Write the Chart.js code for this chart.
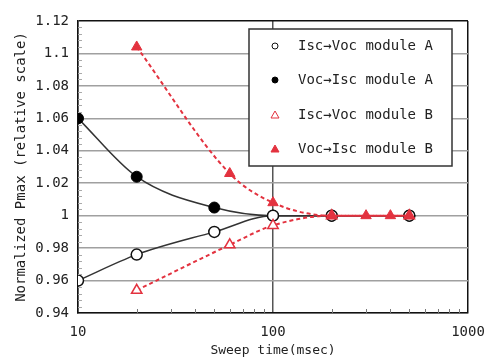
<!DOCTYPE html>
<html>
<head>
<meta charset="utf-8">
<script src="https://cdn.jsdelivr.net/npm/chart.js@4.4.1/dist/chart.umd.min.js"></script>
<style>
  html, body { margin: 0; padding: 0; background: #fff; }
  #wrap { width: 498px; height: 358px; }
</style>
</head>
<body>
<div id="wrap"><canvas id="myChart" width="498" height="358"></canvas></div>
<script>
// values
const aOpenX = [10, 20, 50, 100, 200, 500];
const aOpenY = [0.960, 0.976, 0.990, 1.000, 1.000, 1.000];
const aFilledX = [10, 20, 50, 100, 200, 500];
const aFilledY = [1.060, 1.024, 1.005, 1.000, 1.000, 1.000];
const bOpenX = [20, 60, 100, 200, 500];
const bOpenY = [0.954, 0.982, 0.994, 1.000, 1.000];
const bFilledX = [20, 60, 100, 200, 300, 400, 500];
const bFilledY = [1.104, 1.026, 1.008, 1.000, 1.000, 1.000, 1.000];

const seriesLabels = ['Isc\u2192Voc module A', 'Voc\u2192Isc module A', 'Isc\u2192Voc module B', 'Voc\u2192Isc module B'];
const xTickValues = [10, 100, 1000];
const yMin = 0.94, yMax = 1.12, yStep = 0.02;

const RED = '#e3323f';
const monoFont = "'DejaVu Sans Mono', monospace";

function pts(xs, ys) {
  return xs.map((x, i) => ({ x: x, y: ys[i] }));
}

// Draw minor ticks on the axes and the legend box
const extras = {
  id: 'extras',
  afterDraw(chart) {
    const ctx = chart.ctx;
    const xs = chart.scales.x, ys = chart.scales.y;
    const area = chart.chartArea;
    ctx.save();
    // x minor ticks
    ctx.strokeStyle = '#777';
    ctx.lineWidth = 1;
    for (let d = 10; d < 1000; d *= 10) {
      for (let m = 2; m <= 9; m++) {
        const px = Math.round(xs.getPixelForValue(d * m)) + 0.5;
        ctx.beginPath();
        ctx.moveTo(px, area.bottom);
        ctx.lineTo(px, area.bottom - 4);
        ctx.stroke();
      }
    }
    // y minor ticks
    ctx.strokeStyle = '#aaa';
    for (let i = 1; i < 45; i++) {
      if (i % 5 === 0) continue;
      const py = Math.round(ys.getPixelForValue(yMin + i * 0.004)) + 0.5;
      ctx.beginPath();
      ctx.moveTo(area.left, py);
      ctx.lineTo(area.left + 4, py);
      ctx.stroke();
    }

    // legend box
    const bx = 249, by = 29, bw = 203, bh = 137;
    ctx.fillStyle = '#fff';
    ctx.fillRect(bx, by, bw, bh);
    ctx.strokeStyle = '#333';
    ctx.lineWidth = 1.5;
    ctx.strokeRect(bx, by, bw, bh);
    const rows = [46, 80, 115, 149];
    ctx.font = '14px ' + monoFont;
    ctx.textBaseline = 'middle';
    ctx.textAlign = 'left';
    chart.data.datasets.forEach((ds, i) => {
      const y = rows[i];
      const mx = 275;
      ctx.lineWidth = 1;
      ctx.strokeStyle = ds.pointBorderColor;
      ctx.fillStyle = ds.pointBackgroundColor;
      ctx.beginPath();
      if (ds.pointStyle === 'circle') {
        ctx.arc(mx, y, 3, 0, Math.PI * 2);
      } else {
        ctx.moveTo(mx, y - 4);
        ctx.lineTo(mx + 4, y + 3);
        ctx.lineTo(mx - 4, y + 3);
        ctx.closePath();
      }
      ctx.fill();
      ctx.stroke();
      ctx.fillStyle = '#222';
      ctx.fillText(ds.label, 298, y);
    });
    ctx.restore();
  }
};

const ctx = document.getElementById('myChart').getContext('2d');
const chart = new Chart(ctx, {
  type: 'line',
  data: {
    datasets: [
      {
        label: seriesLabels[0],
        data: pts(aOpenX, aOpenY),
        borderColor: '#333', borderWidth: 1.5,
        pointStyle: 'circle', pointRadius: 5.5,
        pointBackgroundColor: '#fff', pointBorderColor: '#111', pointBorderWidth: 1.5,
        cubicInterpolationMode: 'monotone', order: 2
      },
      {
        label: seriesLabels[1],
        data: pts(aFilledX, aFilledY),
        borderColor: '#333', borderWidth: 1.5,
        pointStyle: 'circle', pointRadius: 5.5,
        pointBackgroundColor: '#000', pointBorderColor: '#000', pointBorderWidth: 1,
        cubicInterpolationMode: 'monotone', order: 2
      },
      {
        label: seriesLabels[2],
        data: pts(bOpenX, bOpenY),
        borderColor: RED, borderWidth: 2, borderDash: [4, 3],
        pointStyle: 'triangle', pointRadius: 6,
        pointBackgroundColor: '#fff', pointBorderColor: RED, pointBorderWidth: 1.5,
        cubicInterpolationMode: 'monotone', order: 1
      },
      {
        label: seriesLabels[3],
        data: pts(bFilledX, bFilledY),
        borderColor: RED, borderWidth: 2, borderDash: [4, 3],
        pointStyle: 'triangle', pointRadius: 6,
        pointBackgroundColor: RED, pointBorderColor: RED, pointBorderWidth: 1,
        cubicInterpolationMode: 'monotone', order: 0
      }
    ]
  },
  options: {
    responsive: false,
    animation: false,
    layout: { padding: { top: 21, right: 30, left: 0, bottom: 0 } },
    plugins: { legend: { display: false }, tooltip: { enabled: false } },
    scales: {
      x: {
        type: 'logarithmic',
        min: 10, max: 1000,
        afterBuildTicks: (scale) => { scale.ticks = xTickValues.map(v => ({ value: v })); },
        afterFit: (scale) => { scale.height = 45; },
        border: { display: true, color: '#111', width: 1.5 },
        grid: {
          drawTicks: false,
          color: (c) => c.tick && c.tick.value === 1000 ? '#111' : '#555',
          lineWidth: 1.5
        },
        ticks: {
          padding: 11,
          color: '#222',
          font: { family: monoFont, size: 14 },
          maxRotation: 0,
          callback: (v) => String(v)
        },
        title: {
          display: true,
          text: 'Sweep time(msec)',
          color: '#222',
          font: { family: monoFont, size: 13 },
          padding: { top: 0, bottom: 0 }
        }
      },
      y: {
        min: yMin, max: yMax,
        afterFit: (scale) => { scale.width = 78; },
        border: { display: true, color: '#111', width: 1.5 },
        grid: {
          drawTicks: false,
          color: (c) => c.tick && Math.abs(c.tick.value - yMax) < 1e-6 ? '#111' : '#a0a0a0',
          lineWidth: 1.5
        },
        ticks: {
          stepSize: yStep,
          padding: 9,
          color: '#222',
          font: { family: monoFont, size: 14 },
          callback: (v) => String(Number(v.toFixed(2)))
        },
        title: {
          display: true,
          text: 'Normalized Pmax (relative scale)',
          color: '#222',
          font: { family: monoFont, size: 14 },
          padding: { top: 13, bottom: 0 }
        }
      }
    }
  },
  plugins: [extras]
});
</script>
</body>
</html>
